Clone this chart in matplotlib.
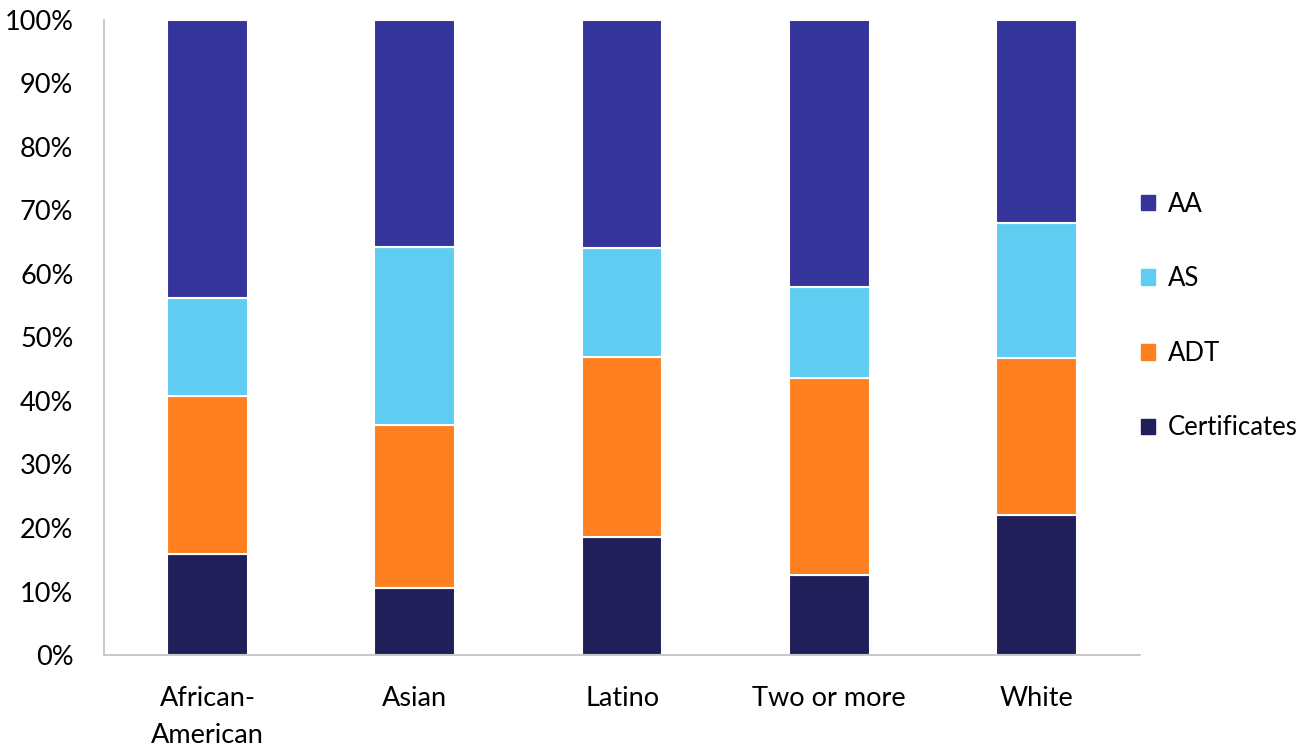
import matplotlib.pyplot as plt
import numpy as np
from matplotlib.patches import Patch

# Data (percent of awards by ethnicity)
groups = ["African-\nAmerican", "Asian", "Latino", "Two or more", "White"]
certificates = [15.9, 10.6, 18.6, 12.6, 22.1]
adt = [24.9, 25.6, 28.4, 31.1, 24.7]
as_deg = [15.4, 28.1, 17.1, 14.3, 21.3]
aa = [43.8, 35.7, 35.9, 42.0, 31.9]

series = [("Certificates", certificates, "#201f5a"),
          ("ADT", adt, "#ff8021"),
          ("AS", as_deg, "#5fccf2"),
          ("AA", aa, "#35349a")]

plt.rcParams['font.family'] = ['Lato', 'DejaVu Sans']

fig = plt.figure(figsize=(13.12, 7.49), dpi=100)
ax = fig.add_axes([0.0793, 0.1255, 0.7897, 0.8478])

x = np.arange(len(groups))
bottom = np.zeros(len(groups))
for name, vals, color in series:
    ax.bar(x, vals, 0.39, bottom=bottom, color=color, edgecolor='white',
           linewidth=1.5, label=name)
    bottom += np.array(vals)

ax.set_xlim(-0.5, len(groups) - 0.5)
ax.set_ylim(0, 100)
ax.set_yticks(np.arange(0, 101, 10))
ax.set_yticklabels([f"{v}%" for v in range(0, 101, 10)])
ax.set_xticks(x)
ax.set_xticklabels(groups, linespacing=1.6)
ax.tick_params(axis='both', length=0, labelsize=19.5, colors='#000000')
ax.tick_params(axis='x', pad=22)
ax.tick_params(axis='y', pad=22)

for side in ['top', 'right']:
    ax.spines[side].set_visible(False)
for side in ['left', 'bottom']:
    ax.spines[side].set_color('#bfbfbf')
    ax.spines[side].set_linewidth(1.2)

handles = [Patch(color=c, label=n) for n, _, c in reversed(series)]
fig.legend(handles=handles, loc='center left', bbox_to_anchor=(0.852, 0.578),
           frameon=False, fontsize=18.5, labelspacing=1.93,
           handlelength=0.55, handleheight=0.55, handletextpad=0.5)

fig.savefig('out.png', dpi=100)
